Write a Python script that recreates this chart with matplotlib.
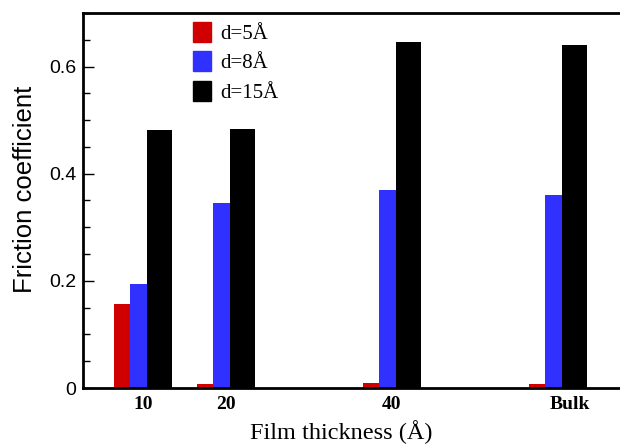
import matplotlib
matplotlib.use("Agg")
import matplotlib.pyplot as plt
from matplotlib.patches import Patch
from matplotlib.ticker import MultipleLocator, FixedLocator

# film thickness groups (Bulk drawn at 60)
groups = [10, 20, 40, 60]
tick_pos = [9.5, 19.5, 39.5, 61]
tick_labels = ["10", "20", "40", "Bulk"]

series_names = ["d=5Å", "d=8Å", "d=15Å"]
d5 = [0.156, 0.007, 0.009, 0.007]
d8 = [0.195, 0.346, 0.370, 0.361]
d15 = [0.481, 0.483, 0.645, 0.640]

colors = ["#d00000", "#3030ff", "#000000"]

fig = plt.figure(figsize=(6.2, 4.44), dpi=100)
ax = fig.add_axes([83 / 620, 56 / 444, 1 - 83 / 620, 375 / 444])

# red and blue bars are narrow, black is wider
ax.bar([g - 4 for g in groups], d5, width=2, align="edge", color=colors[0])
ax.bar([g - 2 for g in groups], d8, width=2, align="edge", color=colors[1])
ax.bar(groups, d15, width=3, align="edge", color=colors[2])

ax.set_xlim(2.3, 67)
ax.set_ylim(0, 0.7)

ax.spines["right"].set_visible(False)
for s in ["left", "top", "bottom"]:
    ax.spines[s].set_linewidth(2)

ax.yaxis.set_major_locator(FixedLocator([0, 0.2, 0.4, 0.6]))
ax.yaxis.set_minor_locator(MultipleLocator(0.05))
ax.set_yticklabels(["0", "0.2", "0.4", "0.6"], family="Liberation Sans", fontsize=14)
ax.tick_params(axis="y", which="major", direction="in", length=8, width=1, pad=5)
ax.tick_params(axis="y", which="minor", direction="in", length=5, width=1)

ax.set_xticks(tick_pos)
ax.set_xticklabels(tick_labels, family="Liberation Serif", fontsize=14, fontweight="bold")
ax.tick_params(axis="x", length=0, pad=6)

ax.set_ylabel("Friction coefficient", family="Liberation Sans", fontsize=18.5)
ax.yaxis.set_label_coords(-0.085, 0.53)
ax.set_xlabel("Film thickness (Å)", family="Liberation Serif", fontsize=17.5)
ax.xaxis.set_label_coords(0.48, -0.085)

handles = [Patch(color=c) for c in colors]
ax.legend(handles, series_names, loc="upper left",
          bbox_to_anchor=(193 / 620, 1 - 22 / 444), bbox_transform=fig.transFigure,
          frameon=False, borderpad=0, borderaxespad=0,
          handlelength=0.85, handleheight=1.1, handletextpad=0.45,
          labelspacing=0.35, prop={"family": "Liberation Serif", "size": 15})

fig.savefig("out.png", dpi=100)
